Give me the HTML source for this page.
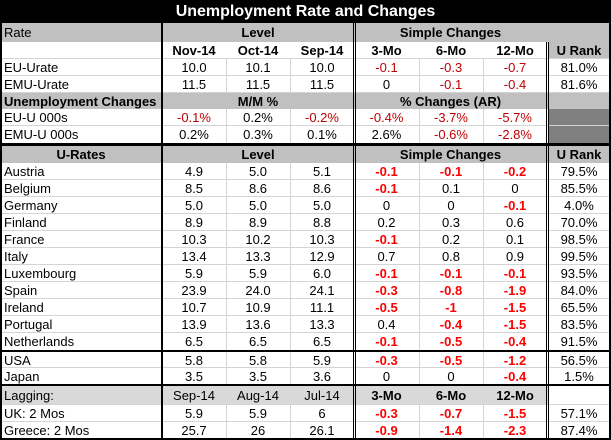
<!DOCTYPE html>
<html><head><meta charset="utf-8"><style>
*{margin:0;padding:0;box-sizing:border-box}
body{width:611px;height:440px;background:#fff;position:relative;overflow:hidden;font-family:"Liberation Sans",Arial,sans-serif;font-size:13px;color:#000}
.r{position:absolute;left:0;width:611px;display:flex;align-items:center}
.r div{text-align:center;white-space:nowrap;overflow:visible}
.c0{width:162px;text-align:left!important;padding-left:4px}
.c1,.c2,.c3{width:64px}
.c4{width:65px}.c5,.c6{width:64px}.c7{width:64px}
.b{font-weight:bold}
.dr{color:#c00000}
.rr{color:#ff0000;font-weight:bold}
.ln{position:absolute;background:#000}
.hl{position:absolute;left:2px;width:607px;height:1px;background:#d4d4d4}
.vl{position:absolute;width:1px;background:#d4d4d4}
</style></head><body>
<div style="position:absolute;left:0;top:0;width:611px;height:23px;background:#000;color:#fff;font-weight:bold;font-size:16px;text-align:center;line-height:24px">Unemployment Rate and Changes</div>

<div style="position:absolute;left:0;top:23px;width:611px;height:19px;background:#c0c0c0"></div>
<div style="position:absolute;left:548px;top:42px;width:63px;height:17px;background:#c0c0c0"></div>
<div style="position:absolute;left:0;top:93px;width:611px;height:16px;background:#c0c0c0"></div>
<div style="position:absolute;left:548px;top:109px;width:63px;height:34px;background:#808080"></div>
<div style="position:absolute;left:0;top:146px;width:611px;height:17px;background:#c0c0c0"></div>
<div style="position:absolute;left:0;top:386px;width:548px;height:19px;background:#d9d9d9"></div>

<div class="hl" style="top:58px"></div><div class="hl" style="top:75px"></div><div class="hl" style="top:92px"></div>
<div class="hl" style="top:125px"></div>
<div class="hl" style="top:179px"></div><div class="hl" style="top:196px"></div><div class="hl" style="top:213px"></div><div class="hl" style="top:230px"></div><div class="hl" style="top:247px"></div><div class="hl" style="top:264px"></div><div class="hl" style="top:281px"></div><div class="hl" style="top:298px"></div><div class="hl" style="top:315px"></div><div class="hl" style="top:332px"></div>
<div class="hl" style="top:367px"></div><div class="hl" style="top:404px"></div><div class="hl" style="top:421px"></div>
<div class="vl" style="left:226px;top:59px;height:34px"></div><div class="vl" style="left:290px;top:59px;height:34px"></div>
<div class="vl" style="left:419px;top:59px;height:34px"></div><div class="vl" style="left:483px;top:59px;height:34px"></div>
<div class="vl" style="left:226px;top:109px;height:34px"></div><div class="vl" style="left:290px;top:109px;height:34px"></div>
<div class="vl" style="left:419px;top:109px;height:34px"></div><div class="vl" style="left:483px;top:109px;height:34px"></div>
<div class="vl" style="left:226px;top:163px;height:221px"></div><div class="vl" style="left:290px;top:163px;height:221px"></div>
<div class="vl" style="left:419px;top:163px;height:221px"></div><div class="vl" style="left:483px;top:163px;height:221px"></div>
<div class="vl" style="left:226px;top:405px;height:34px"></div><div class="vl" style="left:290px;top:405px;height:34px"></div>
<div class="vl" style="left:419px;top:405px;height:34px"></div><div class="vl" style="left:483px;top:405px;height:34px"></div>

<div class="r" style="top:23px;height:19px"><div class="c0">Rate</div><div style="width:192px" class="b">Level</div><div style="width:193px" class="b">Simple Changes</div></div>
<div class="r b" style="top:42px;height:17px"><div class="c0"></div><div class="c1">Nov-14</div><div class="c2">Oct-14</div><div class="c3">Sep-14</div><div class="c4">3-Mo</div><div class="c5">6-Mo</div><div class="c6">12-Mo</div><div class="c7">U Rank</div></div>
<div class="r" style="top:59px;height:17px"><div class="c0">EU-Urate</div><div class="c1">10.0</div><div class="c2">10.1</div><div class="c3">10.0</div><div class="c4 dr">-0.1</div><div class="c5 dr">-0.3</div><div class="c6 dr">-0.7</div><div class="c7">81.0%</div></div>
<div class="r" style="top:76px;height:17px"><div class="c0">EMU-Urate</div><div class="c1">11.5</div><div class="c2">11.5</div><div class="c3">11.5</div><div class="c4">0</div><div class="c5 dr">-0.1</div><div class="c6 dr">-0.4</div><div class="c7">81.6%</div></div>
<div class="r b" style="top:93px;height:16px"><div class="c0">Unemployment Changes</div><div style="width:192px">M/M %</div><div style="width:193px">% Changes (AR)</div></div>
<div class="r" style="top:109px;height:17px"><div class="c0">EU-U 000s</div><div class="c1 dr">-0.1%</div><div class="c2">0.2%</div><div class="c3 dr">-0.2%</div><div class="c4 dr">-0.4%</div><div class="c5 dr">-3.7%</div><div class="c6 dr">-5.7%</div></div>
<div class="r" style="top:126px;height:17px"><div class="c0">EMU-U 000s</div><div class="c1">0.2%</div><div class="c2">0.3%</div><div class="c3">0.1%</div><div class="c4">2.6%</div><div class="c5 dr">-0.6%</div><div class="c6 dr">-2.8%</div></div>
<div class="r b" style="top:146px;height:17px"><div class="c0" style="text-align:center!important;padding:0">U-Rates</div><div style="width:192px">Level</div><div style="width:193px">Simple Changes</div><div class="c7">U Rank</div></div>

<div class="r" style="top:163px;height:17px"><div class="c0">Austria</div><div class="c1">4.9</div><div class="c2">5.0</div><div class="c3">5.1</div><div class="c4 rr">-0.1</div><div class="c5 rr">-0.1</div><div class="c6 rr">-0.2</div><div class="c7">79.5%</div></div>
<div class="r" style="top:180px;height:17px"><div class="c0">Belgium</div><div class="c1">8.5</div><div class="c2">8.6</div><div class="c3">8.6</div><div class="c4 rr">-0.1</div><div class="c5">0.1</div><div class="c6">0</div><div class="c7">85.5%</div></div>
<div class="r" style="top:197px;height:17px"><div class="c0">Germany</div><div class="c1">5.0</div><div class="c2">5.0</div><div class="c3">5.0</div><div class="c4">0</div><div class="c5">0</div><div class="c6 rr">-0.1</div><div class="c7">4.0%</div></div>
<div class="r" style="top:214px;height:17px"><div class="c0">Finland</div><div class="c1">8.9</div><div class="c2">8.9</div><div class="c3">8.8</div><div class="c4">0.2</div><div class="c5">0.3</div><div class="c6">0.6</div><div class="c7">70.0%</div></div>
<div class="r" style="top:231px;height:17px"><div class="c0">France</div><div class="c1">10.3</div><div class="c2">10.2</div><div class="c3">10.3</div><div class="c4 rr">-0.1</div><div class="c5">0.2</div><div class="c6">0.1</div><div class="c7">98.5%</div></div>
<div class="r" style="top:248px;height:17px"><div class="c0">Italy</div><div class="c1">13.4</div><div class="c2">13.3</div><div class="c3">12.9</div><div class="c4">0.7</div><div class="c5">0.8</div><div class="c6">0.9</div><div class="c7">99.5%</div></div>
<div class="r" style="top:265px;height:17px"><div class="c0">Luxembourg</div><div class="c1">5.9</div><div class="c2">5.9</div><div class="c3">6.0</div><div class="c4 rr">-0.1</div><div class="c5 rr">-0.1</div><div class="c6 rr">-0.1</div><div class="c7">93.5%</div></div>
<div class="r" style="top:282px;height:17px"><div class="c0">Spain</div><div class="c1">23.9</div><div class="c2">24.0</div><div class="c3">24.1</div><div class="c4 rr">-0.3</div><div class="c5 rr">-0.8</div><div class="c6 rr">-1.9</div><div class="c7">84.0%</div></div>
<div class="r" style="top:299px;height:17px"><div class="c0">Ireland</div><div class="c1">10.7</div><div class="c2">10.9</div><div class="c3">11.1</div><div class="c4 rr">-0.5</div><div class="c5 rr">-1</div><div class="c6 rr">-1.5</div><div class="c7">65.5%</div></div>
<div class="r" style="top:316px;height:17px"><div class="c0">Portugal</div><div class="c1">13.9</div><div class="c2">13.6</div><div class="c3">13.3</div><div class="c4">0.4</div><div class="c5 rr">-0.4</div><div class="c6 rr">-1.5</div><div class="c7">83.5%</div></div>
<div class="r" style="top:333px;height:17px"><div class="c0">Netherlands</div><div class="c1">6.5</div><div class="c2">6.5</div><div class="c3">6.5</div><div class="c4 rr">-0.1</div><div class="c5 rr">-0.5</div><div class="c6 rr">-0.4</div><div class="c7">91.5%</div></div>
<div class="r" style="top:352px;height:16px"><div class="c0">USA</div><div class="c1">5.8</div><div class="c2">5.8</div><div class="c3">5.9</div><div class="c4 rr">-0.3</div><div class="c5 rr">-0.5</div><div class="c6 rr">-1.2</div><div class="c7">56.5%</div></div>
<div class="r" style="top:368px;height:16px"><div class="c0">Japan</div><div class="c1">3.5</div><div class="c2">3.5</div><div class="c3">3.6</div><div class="c4">0</div><div class="c5">0</div><div class="c6 rr">-0.4</div><div class="c7">1.5%</div></div>
<div class="r" style="top:386px;height:19px"><div class="c0">Lagging:</div><div class="c1">Sep-14</div><div class="c2">Aug-14</div><div class="c3">Jul-14</div><div class="c4 b">3-Mo</div><div class="c5 b">6-Mo</div><div class="c6 b">12-Mo</div></div>
<div class="r" style="top:405px;height:17px"><div class="c0">UK: 2 Mos</div><div class="c1">5.9</div><div class="c2">5.9</div><div class="c3">6</div><div class="c4 rr">-0.3</div><div class="c5 rr">-0.7</div><div class="c6 rr">-1.5</div><div class="c7">57.1%</div></div>
<div class="r" style="top:422px;height:16px"><div class="c0">Greece: 2 Mos</div><div class="c1">25.7</div><div class="c2">26</div><div class="c3">26.1</div><div class="c4 rr">-0.9</div><div class="c5 rr">-1.4</div><div class="c6 rr">-2.3</div><div class="c7">87.4%</div></div>

<div class="ln" style="left:0;top:0;width:2px;height:440px"></div>
<div class="ln" style="left:609px;top:0;width:2px;height:440px"></div>
<div class="ln" style="left:0;top:438px;width:611px;height:2px"></div>
<div class="ln" style="left:161px;top:23px;width:2px;height:417px"></div>
<div class="ln" style="left:353px;top:23px;width:1px;height:417px"></div>
<div class="ln" style="left:355px;top:23px;width:1px;height:417px"></div>
<div class="ln" style="left:546px;top:42px;width:1px;height:398px"></div>
<div class="ln" style="left:548px;top:42px;width:1px;height:398px"></div>
<div class="ln" style="left:0;top:143px;width:611px;height:3px"></div>
<div class="ln" style="left:0;top:350px;width:611px;height:2px"></div>
<div class="ln" style="left:0;top:384px;width:611px;height:2px"></div>
</body></html>
